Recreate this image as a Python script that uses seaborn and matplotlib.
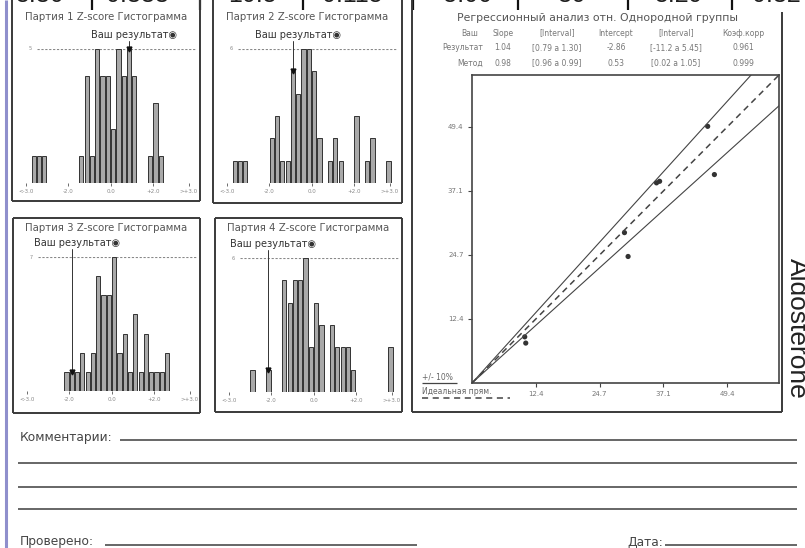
"""
Отчёт по контролю качества: Z-score гистограммы партий и регрессия
"""
import matplotlib
matplotlib.use("Agg")
import matplotlib.pyplot as plt
import seaborn as sns

W, H, DPI = 805, 548, 100

# Верхняя строка значений (обрезана сверху)
top_values = ["5.30", "0.333", "10.5", "0.115", "-5.00", "39", "5.29", "0.32"]

# Z-score гистограммы: левый край бина (шаг 0.25) и частота
p1_bins = [-3.75, -3.5, -3.25, -1.5, -1.25, -1.0, -0.75, -0.5, -0.25, 0.0,
           0.25, 0.5, 0.75, 1.0, 1.75, 2.0, 2.25]
p1_counts = [1, 1, 1, 1, 4, 1, 5, 4, 4, 2, 5, 4, 5, 4, 1, 3, 1]
p2_bins = [-3.75, -3.5, -3.25, -2.0, -1.75, -1.5, -1.25, -1.0, -0.75, -0.5,
           -0.25, 0.0, 0.25, 0.75, 1.0, 1.25, 2.0, 2.5, 2.75, 3.5]
p2_counts = [1, 1, 1, 2, 3, 1, 1, 5, 4, 6, 6, 5, 2, 1, 2, 1, 3, 1, 2, 1]
p3_bins = [-2.25, -2.0, -1.75, -1.5, -1.25, -1.0, -0.75, -0.5, -0.25, 0.0,
           0.25, 0.5, 0.75, 1.0, 1.25, 1.5, 1.75, 2.0, 2.25, 2.5]
p3_counts = [1, 1, 1, 2, 1, 2, 6, 5, 5, 7, 2, 3, 1, 4, 1, 3, 1, 1, 1, 2]
p4_bins = [-3.0, -2.25, -1.5, -1.25, -1.0, -0.75, -0.5, -0.25, 0.0, 0.25,
           0.75, 1.0, 1.25, 1.5, 1.75, 3.5]
p4_counts = [1, 1, 5, 4, 5, 5, 6, 2, 4, 3, 3, 2, 2, 2, 1, 2]
result_bins = [0.75, -1.0, -2.0, -2.25]   # бин "Ваш результат"
hist_max = [5, 6, 7, 6]
z_ticks = [-4.0, -2.0, 0.0, 2.0, 3.7]
z_labels = ["<-3.0", "-2.0", "0.0", "+2.0", ">+3.0"]

# Регрессия отн. однородной группы
reg_x = [10.2, 10.4, 29.5, 30.2, 35.7, 36.3, 45.6, 46.9]
reg_y = [8.9, 7.7, 29.0, 24.4, 38.6, 38.9, 49.5, 40.2]
reg_ticks = [12.35, 24.7, 37.05, 49.4]
reg_labels = ["12.4", "24.7", "37.1", "49.4"]
reg_lim = 59.4
band_factors = [0.9, 1.1]   # +/- 10%
table_header = ["Ваш", "Slope", "[Interval]", "Intercept", "[Interval]", "Коэф.корр"]
table_rows = [
    ["Результат", "1.04", "[0.79 a 1.30]", "-2.86", "[-11.2 a 5.45]", "0.961"],
    ["Метод", "0.98", "[0.96 a 0.99]", "0.53", "[0.02 a 1.05]", "0.999"],
]

sns.set_style("white")
plt.rcParams["font.family"] = ["DejaVu Sans"]

fig = plt.figure(figsize=(W / DPI, H / DPI), dpi=DPI)
bg = fig.add_axes([0, 0, 1, 1])
bg.set_xlim(0, W)
bg.set_ylim(H, 0)
bg.axis("off")

BOX = "#3a3a3a"


def px_rect(x0, y0, x1, y1):
    return [x0 / W, 1 - y1 / H, (x1 - x0) / W, (y1 - y0) / H]


def seg(x0, y0, x1, y1, **kw):
    kw.setdefault("color", BOX)
    kw.setdefault("lw", 1.4)
    bg.plot([x0, x1], [y0, y1], solid_capstyle="butt", **kw)


# левая фиолетовая полоса
seg(5.5, 0, 5.5, H, color="#8f8fcc", lw=2.2)

# верхняя строка (видна только нижняя часть цифр)
num_x = [39, 137, 252, 352, 464, 572, 678, 776]
for x, v in zip(num_x, top_values):
    bg.text(x, 2, v, ha="center", va="baseline", fontsize=18,
            family="Liberation Sans", color="#1e1e1e")
for x in [92, 200, 303, 413, 518, 628, 732]:
    seg(x, 0, x, 10, color="#111", lw=1.6)

# ---- гистограммы
panels = [
    dict(L=12, R=200, T=0, B=201, base=183, ty=17),
    dict(L=213, R=402, T=0, B=203, base=183, ty=17),
    dict(L=13, R=200, T=218, B=413, base=391, ty=228),
    dict(L=215, R=402, T=218, B=412, base=392, ty=228),
]
all_bins = [p1_bins, p2_bins, p3_bins, p4_bins]
all_counts = [p1_counts, p2_counts, p3_counts, p4_counts]

for i, pn in enumerate(panels):
    L, R, T, B, base = pn["L"], pn["R"], pn["T"], pn["B"], pn["base"]
    seg(L, T, L, B)
    seg(R, T, R, B)
    seg(L, B, R, B)
    if T > 0:
        seg(L, T, R, T)
    bg.text((L + R) / 2, pn["ty"], f"Партия {i + 1} Z-score Гистограмма",
            ha="center", va="center", fontsize=7.3, color="#555")

    ax = fig.add_axes(px_rect(L + 5, base - 134, L + 188, base))
    ax.patch.set_alpha(0)
    centers = [b + 0.125 for b in all_bins[i]]
    sns.histplot(x=centers, weights=all_counts[i], binwidth=0.25,
                 binrange=(-4.25, 4.25), shrink=0.8, color="#a9a9a9",
                 edgecolor="#333", linewidth=0.7, alpha=1, ax=ax)
    for p in list(ax.patches):
        if p.get_height() == 0:
            p.remove()
    ymax = hist_max[i]
    ax.set_xlim(-4.41, 4.22)
    ax.set_ylim(0, ymax)
    ax.axhline(ymax, xmin=0.11, xmax=0.97, color="#888", lw=0.8,
               ls=(0, (2, 1.5)), zorder=0)
    ax.text(0.07, 1.0, str(ymax), transform=ax.transAxes, fontsize=3.5,
            color="#888", ha="center", va="center")
    ax.set_xticks(z_ticks)
    ax.set_xticklabels(z_labels)
    ax.set_yticks([])
    ax.set_xlabel("")
    ax.set_ylabel("")
    ax.tick_params(axis="x", length=2.5, width=0.6, color="#555",
                   labelsize=4, labelcolor="#888", pad=2, bottom=True)
    sns.despine(ax=ax, left=True, bottom=True)

    # Ваш результат
    c = result_bins[i] + 0.125
    cnt = all_counts[i][all_bins[i].index(result_bins[i])]
    ax.plot([c, c], [cnt, ymax * 1.06], color="#333", lw=0.7, clip_on=False)
    ax.plot([c], [cnt], marker="v", ms=3.5, color="#111", clip_on=False)
    ax.annotate("Ваш результат◉", xy=(c, ymax), xytext=(3.5, 10),
                textcoords="offset points", ha="center", va="center",
                fontsize=7, color="#333", annotation_clip=False)

# ---- регрессия
seg(412, 0, 412, 412)
seg(782, 12, 782, 412)
seg(412, 412, 782, 412)
bg.text(597, 18, "Регрессионный анализ отн. Однородной группы",
        ha="center", va="center", fontsize=7.8, color="#555")
col_x = [470, 503, 557, 616, 676, 743]
for x, h in zip(col_x, table_header):
    bg.text(x, 33, h, ha="center", va="center", fontsize=5.5, color="#777")
for r, row in enumerate(table_rows):
    y = 48 + 15 * r
    bg.text(483, y, row[0], ha="right", va="center", fontsize=5.5, color="#777")
    for x, v in zip(col_x[1:], row[1:]):
        bg.text(x, y, v, ha="center", va="center", fontsize=5.5, color="#777")

rax = fig.add_axes(px_rect(472, 75, 779, 383))
rax.patch.set_alpha(0)
ends = [0, reg_lim * 1.2]
for f in band_factors:
    sns.lineplot(x=ends, y=[e * f for e in ends], color="#444", lw=0.8, ax=rax)
sns.lineplot(x=ends, y=ends, color="#444", lw=1.1, ax=rax)
rax.lines[-1].set_dashes((4, 3))
sns.scatterplot(x=reg_x, y=reg_y, color="#333", s=14, edgecolor="none", ax=rax)
rax.set_xlim(0, reg_lim)
rax.set_ylim(0, reg_lim)
rax.set_xticks(reg_ticks)
rax.set_xticklabels(reg_labels)
rax.set_yticks(reg_ticks)
rax.set_yticklabels(reg_labels)
rax.tick_params(length=3, width=0.8, color="#444", labelsize=5,
                labelcolor="#777", pad=3, bottom=True, left=True)
for s in rax.spines.values():
    s.set_color("#444")
    s.set_linewidth(1.2)

# легенда
bg.text(422, 377, "+/- 10%", ha="left", va="center", fontsize=5.5, color="#666")
seg(422, 383, 457, 383, color="#444", lw=0.9)
bg.text(422, 391, "Идеальная прям.", ha="left", va="center", fontsize=5.5,
        color="#666")
seg(422, 398, 510, 398, color="#444", lw=1.1, ls=(0, (4, 3)))

bg.text(797, 328, "Aldosterone", rotation=270, ha="center", va="center",
        fontsize=19, family="Liberation Sans", color="#222")

# ---- комментарии
bg.text(20, 437, "Комментарии:", ha="left", va="center", fontsize=8.8, color="#444")
seg(120, 440, 797, 440, color="#666", lw=1.4)
for y in [463, 487, 509]:
    seg(18, y, 797, y, color="#666", lw=1.4)
bg.text(20, 542, "Проверено:", ha="left", va="center", fontsize=8.8, color="#444")
seg(105, 545, 417, 545, color="#666", lw=1.4)
bg.text(627, 542, "Дата:", ha="left", va="center", fontsize=8.8, color="#444")
seg(665, 545, 797, 545, color="#666", lw=1.4)

fig.savefig("out.png", dpi=DPI)
